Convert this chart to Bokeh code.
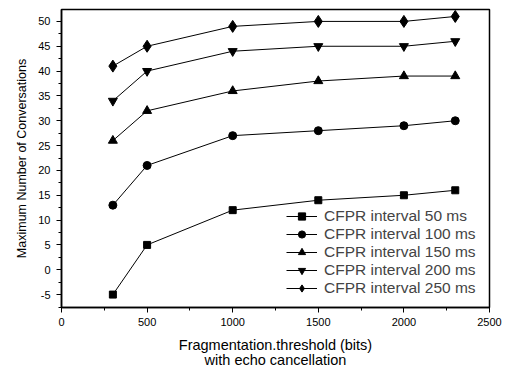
from bokeh.plotting import figure
from bokeh.embed import file_html
from bokeh.resources import INLINE
from bokeh.models import Range1d, FixedTicker, Legend, LegendItem

x = [300, 500, 1000, 1500, 2000, 2300]
s50 = [-5, 5, 12, 14, 15, 16]
s100 = [13, 21, 27, 28, 29, 30]
s150 = [26, 32, 36, 38, 39, 39]
s200 = [34, 40, 44, 45, 45, 46]
s250 = [41, 45, 49, 50, 50, 51]
labels = ["CFPR interval 50 ms", "CFPR interval 100 ms", "CFPR interval 150 ms",
          "CFPR interval 200 ms", "CFPR interval 250 ms"]
markers = ["square", "circle", "triangle", "inverted_triangle", "diamond"]
sizes = [7, 8, 9, 9, 12]
series = [s50, s100, s150, s200, s250]

p = figure(width=505, height=371, output_backend="svg", toolbar_location=None,
           x_range=Range1d(0, 2500), y_range=Range1d(-7.6, 52.4),
           min_border_left=61, min_border_right=16, min_border_top=9, min_border_bottom=64)
p.background_fill_color = "white"
p.border_fill_color = "white"
p.outline_line_color = "black"
p.outline_line_width = 1.5
p.grid.visible = False

items = []
for ys, lab, m, sz in zip(series, labels, markers, sizes):
    l = p.line(x, ys, line_color="black", line_width=1)
    s = p.scatter(x, ys, marker=m, size=sz, fill_color="black", line_color="black")
    items.append(LegendItem(label=lab, renderers=[l, s]))

legend = Legend(items=items, location=(225, 10), border_line_color=None,
                background_fill_alpha=0, label_text_font="Liberation Sans",
                label_text_font_size="15.5px", glyph_width=31, glyph_height=18,
                label_height=18, spacing=0, padding=2, margin=0, label_standoff=7)
p.add_layout(legend, "center")

p.xaxis.ticker = FixedTicker(ticks=[0, 500, 1000, 1500, 2000, 2500],
                             minor_ticks=[250, 750, 1250, 1750, 2250])
p.yaxis.ticker = FixedTicker(ticks=list(range(-5, 55, 5)),
                             minor_ticks=[v + 2.5 for v in range(-10, 55, 5)])
p.yaxis.major_label_overrides = {-5: "-5"}
for ax in (p.xaxis[0], p.yaxis[0]):
    ax.axis_line_color = "black"
    ax.axis_line_width = 1.5
    ax.major_tick_line_color = "black"
    ax.minor_tick_line_color = "black"
    ax.major_tick_out = 5
    ax.major_tick_in = 0
    ax.minor_tick_out = 3
    ax.minor_tick_in = 0
    ax.major_label_text_font = "Liberation Sans"
    ax.major_label_text_font_size = "11px"
    ax.major_label_text_color = "black"
    ax.axis_label_text_font = "Liberation Sans"
    ax.axis_label_text_font_style = "normal"
    ax.axis_label_text_color = "black"

p.xaxis.axis_label = "Fragmentation.threshold (bits)\nwith echo cancellation"
p.xaxis.axis_label_text_font_size = "14.5px"
p.xaxis.axis_label_text_line_height = 0.95
p.xaxis.axis_label_standoff = 8
p.xaxis.major_label_standoff = 5
p.yaxis.axis_label = "Maximum Number of Conversations"
p.yaxis.axis_label_text_font_size = "12.5px"
p.yaxis.axis_label_standoff = 6
p.yaxis.major_label_standoff = 6

open("out.html", "w").write(file_html(p, INLINE))
